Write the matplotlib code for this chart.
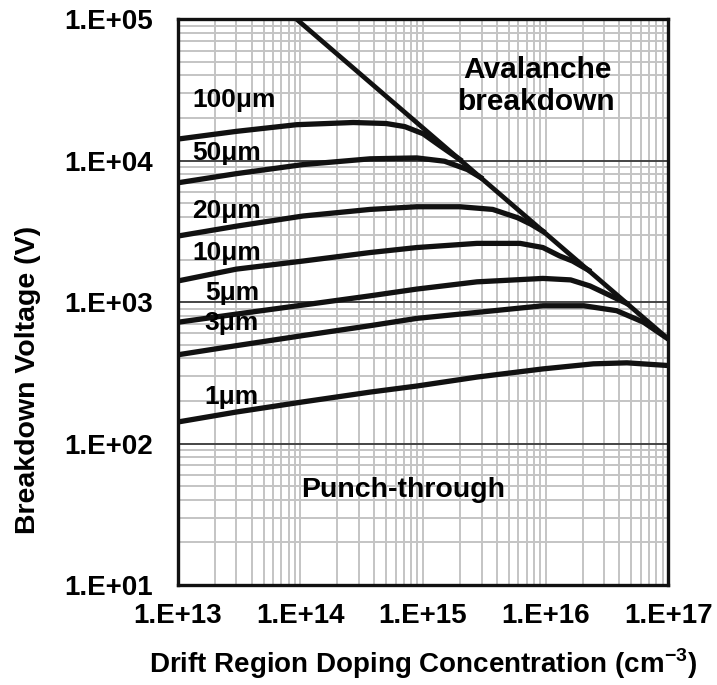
import matplotlib
matplotlib.use("Agg")
import matplotlib.pyplot as plt
from matplotlib.ticker import LogLocator, NullFormatter

plt.rcParams['font.family'] = ['Liberation Sans', 'DejaVu Sans']
plt.rcParams['font.weight'] = 'bold'
plt.rcParams['mathtext.fontset'] = 'custom'
plt.rcParams['mathtext.rm'] = 'Liberation Sans:bold'
plt.rcParams['mathtext.bf'] = 'Liberation Sans:bold'

# avalanche breakdown limit
aval_n = [9.3e13, 1e17]
aval_v = [1e5, 548]

# punch-through curves, drift region width -> (doping, breakdown voltage)
n_100 = [1e13, 3.0e13, 9.3e13, 2.7e14, 5.0e14, 7.1e14, 1.0e15, 1.4e15, 2.0e15]
v_100 = [14200, 16100, 17950, 18600, 18300, 17400, 15500, 12600, 10170]
n_50 = [1e13, 3.0e13, 1.05e14, 3.7e14, 8.9e14, 1.5e15, 2.3e15, 2.95e15]
v_50 = [6970, 8090, 9380, 10300, 10450, 9900, 8650, 7600]
n_20 = [1e13, 3.0e13, 1.05e14, 3.7e14, 8.9e14, 2.0e15, 3.7e15, 5.9e15, 7.6e15, 9.5e15]
v_20 = [2930, 3440, 4060, 4520, 4720, 4720, 4520, 3950, 3550, 3162]
n_10 = [1e13, 3.0e13, 1.05e14, 3.7e14, 8.9e14, 2.75e15, 6.2e15, 9.5e15, 1.3e16, 1.66e16, 2.24e16]
v_10 = [1410, 1710, 1950, 2240, 2430, 2600, 2600, 2430, 2120, 1950, 1680]
n_5 = [1e13, 3.0e13, 1.05e14, 3.7e14, 8.9e14, 2.75e15, 9.5e15, 1.6e16, 2.3e16, 3.4e16, 4.6e16]
v_5 = [720, 822, 953, 1107, 1236, 1390, 1470, 1435, 1300, 1107, 978]
n_3 = [1e13, 3.0e13, 1.05e14, 3.7e14, 8.9e14, 2.75e15, 9.5e15, 2.05e16, 3.8e16, 6.3e16, 1e17]
v_3 = [424, 492, 580, 681, 767, 845, 942, 942, 869, 720, 548]
n_1 = [1e13, 3.0e13, 1.05e14, 3.7e14, 8.9e14, 2.75e15, 9.5e15, 2.45e16, 4.6e16, 1e17]
v_1 = [142, 167, 197, 231, 255, 295, 337, 366, 372, 356]

curves = [(n_100, v_100), (n_50, v_50), (n_20, v_20), (n_10, v_10),
          (n_5, v_5), (n_3, v_3), (n_1, v_1)]
labels = ["100μm", "50μm", "20μm", "10μm", "5μm", "3μm", "1μm"]
label_x = [1.32e13, 1.32e13, 1.32e13, 1.32e13, 1.66e13, 1.66e13, 1.66e13]
label_y = [26900, 11400, 4380, 2210, 1160, 710, 214]

xticks = [1e13, 1e14, 1e15, 1e16, 1e17]
xtick_labels = ["1.E+13", "1.E+14", "1.E+15", "1.E+16", "1.E+17"]
yticks = [1e1, 1e2, 1e3, 1e4, 1e5]
ytick_labels = ["1.E+01", "1.E+02", "1.E+03", "1.E+04", "1.E+05"]

fig = plt.figure(figsize=(7.17, 6.85), dpi=100)
ax = fig.add_axes([0.248, 0.146, 0.684, 0.826])
ax.set_xscale('log')
ax.set_yscale('log')
ax.set_xlim(1e13, 1e17)
ax.set_ylim(1e1, 1e5)

ax.xaxis.set_minor_locator(LogLocator(base=10, subs=range(2, 10)))
ax.yaxis.set_minor_locator(LogLocator(base=10, subs=range(2, 10)))
ax.xaxis.set_minor_formatter(NullFormatter())
ax.yaxis.set_minor_formatter(NullFormatter())
ax.grid(which='minor', axis='both', color='#c4c4c4', lw=1.4)
ax.grid(which='major', axis='x', color='#c4c4c4', lw=1.4)
ax.grid(which='major', axis='y', color='#444444', lw=1.4)
ax.set_axisbelow(True)

ax.plot(aval_n, aval_v, color='#111111', lw=3.4, solid_capstyle='butt')
for (n, v) in curves:
    ax.plot(n, v, color='#111111', lw=3.8, solid_joinstyle='round')

for t, x, y in zip(labels, label_x, label_y):
    ax.text(x, y, t, fontsize=19, fontweight='bold', va='center', ha='left')

ax.text(8.5e15, 33700, "Avalanche\nbreakdown", fontsize=21.5, fontweight='bold',
        ha='center', va='center', linespacing=1.2)
ax.text(6.9e14, 46.7, "Punch-through", fontsize=20.5, fontweight='bold',
        ha='center', va='center')

ax.set_xticks(xticks)
ax.set_xticklabels(xtick_labels)
ax.set_yticks(yticks)
ax.set_yticklabels(ytick_labels)
ax.tick_params(which='both', length=0, labelsize=20)
ax.tick_params(axis='x', pad=13)
ax.tick_params(axis='y', pad=18)

for s in ax.spines.values():
    s.set_linewidth(2.4)
    s.set_color('#111111')

ax.set_xlabel("Drift Region Doping Concentration (cm$^{-3}$)",
              fontsize=20, fontweight='bold')
ax.xaxis.set_label_coords(0.5, -0.108)
ax.set_ylabel("Breakdown Voltage (V)", fontsize=20.5, fontweight='bold')
ax.yaxis.set_label_coords(-0.278, 0.362)

fig.savefig("out.png", dpi=100)
